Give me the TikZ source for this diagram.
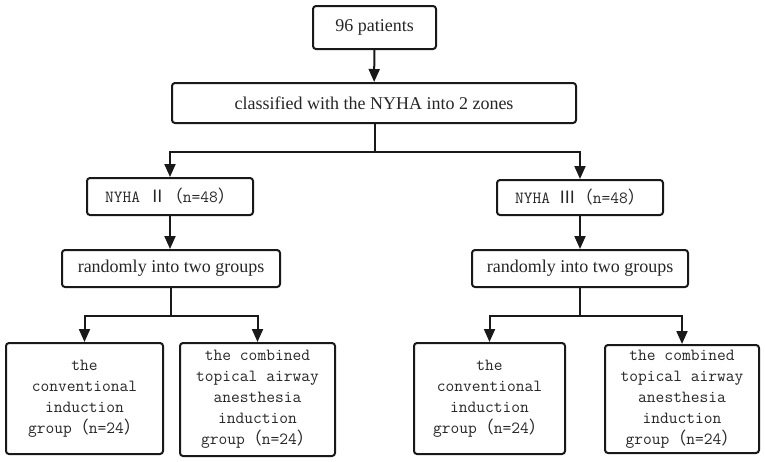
\documentclass[tikz,border=0pt]{standalone}
\usepackage{fontspec}
\setmainfont{Liberation Serif}
\newfontfamily\cjk{Noto Sans CJK SC}
\usetikzlibrary{arrows.meta}
\newcommand{\fl}{{\cjk （}}
\newcommand{\fr}{{\cjk ）}}
\begin{document}
\begin{tikzpicture}[x=1pt,y=-1pt,
  box/.style={draw=black!90, line width=2pt, rounded corners=3pt, align=center, inner sep=0pt, text=black!85},
  serifbox/.style={box, font=\fontsize{18}{21}\selectfont},
  monobox/.style={box, font=\ttfamily\fontsize{17}{21}\selectfont},
  conn/.style={draw=black!90, line width=2pt},
  arr/.style={conn, -{Triangle[width=11pt,length=13pt]}}]
\useasboundingbox (0,0) rectangle (765,461);
\node[serifbox, minimum width=123pt, minimum height=43pt] (p96) at (374.5,27.5) {96 patients};
\node[serifbox, minimum width=404pt, minimum height=40pt] (cls) at (374,103) {classified with the NYHA into 2 zones};
\node[monobox, minimum width=166pt, minimum height=37pt] (n2) at (170,196.5) {NYHA {\cjk Ⅱ}\fl n=48\fr};
\node[monobox, minimum width=166pt, minimum height=35pt] (n3) at (580,197.5) {NYHA {\cjk Ⅲ}\fl n=48\fr};
\node[serifbox, minimum width=218pt, minimum height=37pt] (r2) at (171,268.5) {randomly into two groups};
\node[serifbox, minimum width=216pt, minimum height=37pt] (r3) at (580,268.5) {randomly into two groups};
\node[monobox, minimum width=157pt, minimum height=111pt] (c2) at (84.5,398.5) {the\\conventional\\ induction\\group\fl n=24\fr};
\node[monobox, minimum width=155pt, minimum height=113pt] (t2) at (257.5,399.5) {the combined\\topical airway\\ anesthesia\\induction\\group\fl n=24\fr};
\node[monobox, minimum width=151pt, minimum height=111pt] (c3) at (489.5,398.5) {the\\conventional\\induction\\group\fl n=24\fr};
\node[monobox, minimum width=154pt, minimum height=108pt] (t3) at (682,399) {the combined\\topical airway\\ anesthesia\\induction\\group\fl n=24\fr};
\coordinate (b1) at (374.5,152);
\coordinate (b2) at (171,316);
\coordinate (b3) at (580,316);
\draw[arr] (p96) -- (cls);
\draw[conn] (cls.south -| b1) -- (b1);
\draw[arr] (b1) -| (n2.north);
\draw[arr] (b1) -| (n3.north);
\draw[arr] (n2) -- (n2 |- r2.north);
\draw[arr] (n3) -- (r3);
\draw[conn] (r2.south -| b2) -- (b2);
\draw[conn] (r3.south) -- (b3);
\draw[arr] (b2) -| (c2.north);
\draw[arr] (b2) -| (t2.north);
\draw[arr] (b3) -| (c3.north);
\draw[arr] (b3) -| (t3.north);
\end{tikzpicture}
\end{document}
